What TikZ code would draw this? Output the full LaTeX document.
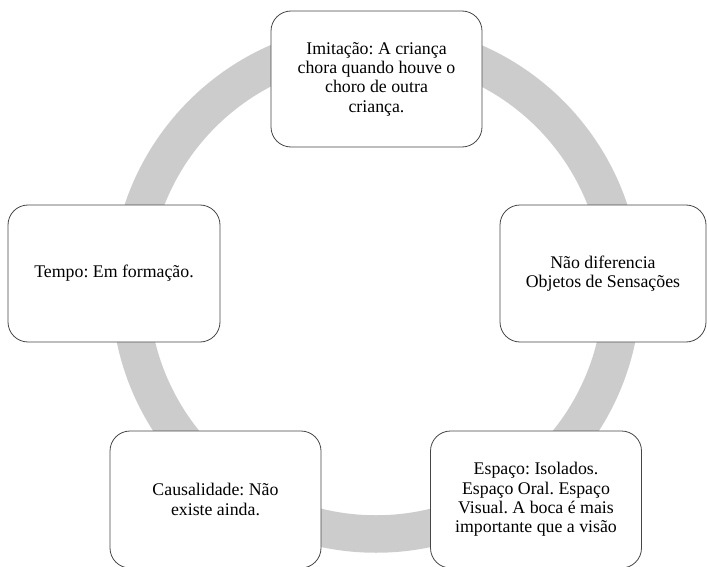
\documentclass[tikz,border=0pt]{standalone}
\usepackage{fontspec}
\setmainfont{Liberation Serif}
\definecolor{ringgray}{RGB}{204,204,204}
\definecolor{boxline}{RGB}{70,70,70}
\begin{document}
\frenchspacing
\begin{tikzpicture}[x=1pt,y=-1pt,
  box/.style={draw=boxline, line width=0.8pt, fill=white, rounded corners=20pt,
    minimum width=211pt, minimum height=137pt, align=center, inner sep=0pt,
    font=\fontsize{17.8}{19.3}\selectfont\frenchspacing, text=black}]
\useasboundingbox (0,0) rectangle (707,567);
\coordinate (c) at (376,288);
\draw[ringgray, line width=37.5pt] (c) circle[radius=246pt];
\node[box, minimum height=136pt] (top) at (376.5,79) {Imitação: A criança\\chora quando houve o\\choro de outra\\criança.};
\node[box, minimum width=206pt] (right) at (603,273.5) {Não diferencia\\Objetos de Sensações};
\node[box] (br) at (536,499.5) {Espaço: Isolados.\\Espaço Oral. Espaço\\Visual. A boca é mais\\importante que a visão};
\node[box] (bl) at (215.5,499.5) {Causalidade: Não\\existe ainda.};
\node[box, minimum width=212pt] (left) at (114,273.5) {Tempo: Em formação.};
\end{tikzpicture}
\end{document}
